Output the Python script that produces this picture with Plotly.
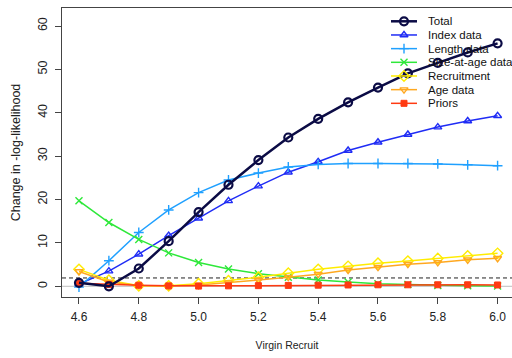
import plotly.graph_objects as go

# Profile over log virgin recruitment: change in negative log-likelihood by component
virgin_recruit = [4.6, 4.7, 4.8, 4.9, 5.0, 5.1, 5.2, 5.3, 5.4, 5.5, 5.6, 5.7, 5.8, 5.9, 6.0]

total = [0.8, 0.0, 4.1, 10.4, 17.1, 23.4, 29.1, 34.3, 38.6, 42.4, 45.8, 49.1, 51.5, 53.9, 56.0]
index_data = [0.5, 3.5, 7.4, 11.7, 15.7, 19.7, 23.1, 26.3, 28.7, 31.3, 33.2, 35.0, 36.7, 38.1, 39.3]
length_data = [-0.2, 5.9, 12.4, 17.6, 21.6, 24.5, 26.1, 27.5, 28.1, 28.3, 28.3, 28.3, 28.2, 28.0, 27.8]
size_at_age = [19.7, 14.7, 10.8, 7.7, 5.5, 4.0, 2.9, 2.1, 1.45, 1.0, 0.6, 0.4, 0.2, 0.1, 0.05]
recruitment = [3.9, 1.4, 0.1, 0.1, 0.6, 1.3, 2.1, 3.0, 3.9, 4.6, 5.3, 5.8, 6.4, 7.0, 7.6]
age_data = [3.4, 1.0, 0.2, 0.05, 0.3, 0.8, 1.45, 2.1, 2.8, 3.75, 4.4, 5.1, 5.5, 6.1, 6.45]
priors = [0.7, 0.4, 0.25, 0.1, 0.05, 0.1, 0.15, 0.2, 0.25, 0.3, 0.35, 0.35, 0.35, 0.35, 0.3]

series_names = ["Total", "Index data", "Length data", "Size-at-age data",
                "Recruitment", "Age data", "Priors"]
series_values = [total, index_data, length_data, size_at_age, recruitment, age_data, priors]
series_colors = ["#0b0b45", "#1f2cf5", "#1fa0ff", "#2ee83a", "#ffec00", "#ffa820", "#ff3a12"]
series_symbols = ["circle-open", "triangle-up-open", "cross-thin-open", "x-thin-open",
                  "diamond-open", "triangle-down-open", "square"]
marker_sizes = [8, 7, 7, 7, 8, 7, 6]
line_widths = [2.5, 1.5, 1.5, 1.5, 1.5, 1.5, 1.5]
marker_line_widths = [2.2, 1.4, 1.4, 1.4, 1.4, 1.4, 1.0]

chi_sq_threshold = 1.92

fig = go.Figure()

# components first, total drawn on top
order = list(range(1, len(series_names))) + [0]
for i in order:
    fig.add_trace(go.Scatter(
        x=virgin_recruit, y=series_values[i], name=series_names[i],
        mode="lines+markers",
        line=dict(color=series_colors[i], width=line_widths[i]),
        marker=dict(symbol=series_symbols[i], size=marker_sizes[i], color=series_colors[i],
                    line=dict(color=series_colors[i], width=marker_line_widths[i])),
        showlegend=False, cliponaxis=False,
    ))

# Hand-made legend on an overlay axis measured in pixels of the plot area
leg_x0, leg_x1, leg_text_x = 329, 355, 364
leg_y0, leg_step = 13.3, 13.67
for k, name in enumerate(series_names):
    yy = leg_y0 + leg_step * k
    fig.add_trace(go.Scatter(
        x=[leg_x0, leg_x1], y=[yy, yy], mode="lines", xaxis="x2", yaxis="y2",
        line=dict(color=series_colors[k], width=line_widths[k]), showlegend=False,
        hoverinfo="skip",
    ))
    fig.add_trace(go.Scatter(
        x=[(leg_x0 + leg_x1) / 2], y=[yy], mode="markers", xaxis="x2", yaxis="y2",
        marker=dict(symbol=series_symbols[k], size=marker_sizes[k], color=series_colors[k],
                    line=dict(color=series_colors[k], width=marker_line_widths[k])),
        showlegend=False, hoverinfo="skip",
    ))
    fig.add_annotation(x=leg_text_x, y=yy, xref="x2", yref="y2", text=name,
                       showarrow=False, xanchor="left", yanchor="middle",
                       font=dict(size=11.5, color="#111111"))

# zero reference and 95% threshold lines
fig.add_shape(type="line", xref="paper", yref="y", x0=0, x1=1, y0=0, y1=0,
              line=dict(color="#bdbdbd", width=1), layer="below")
fig.add_shape(type="line", xref="paper", yref="y", x0=0, x1=1,
              y0=chi_sq_threshold, y1=chi_sq_threshold,
              line=dict(color="#222222", width=1, dash="4px,3px"), layer="below")

fig.update_layout(
    width=512, height=358,
    margin=dict(l=62, r=0, t=8, b=61),
    paper_bgcolor="white", plot_bgcolor="white",
    font=dict(family="Liberation Sans, Arial, sans-serif", size=12, color="#222222"),
    xaxis=dict(
        range=[4.5432, 6.0482], tickvals=[4.6, 4.8, 5.0, 5.2, 5.4, 5.6, 5.8, 6.0],
        ticktext=["4.6", "4.8", "5.0", "5.2", "5.4", "5.6", "5.8", "6.0"],
        showgrid=False, zeroline=False, showline=True, mirror=True,
        linecolor="#444444", linewidth=1, ticks="outside", ticklen=6,
        tickcolor="#444444", tickfont=dict(size=12), ticklabelstandoff=3,
        title=dict(text="Virgin Recruit", font=dict(size=10.5), standoff=18),
    ),
    yaxis=dict(
        range=[-2.47, 64.15], tickvals=[0, 10, 20, 30, 40, 50, 60],
        showgrid=False, zeroline=False, showline=True, linecolor="#444444",
        linewidth=1, ticks="outside", ticklen=6, tickcolor="#444444",
        tickangle=-90, tickfont=dict(size=12.5), ticklabelstandoff=3,
        title=dict(text="Change in -log-likelihood", font=dict(size=12.5), standoff=12),
    ),
    xaxis2=dict(overlaying="x", range=[0, 450], visible=False, fixedrange=True),
    yaxis2=dict(overlaying="y", range=[289, 0], visible=False, fixedrange=True),
)

fig.write_html("out.html")
